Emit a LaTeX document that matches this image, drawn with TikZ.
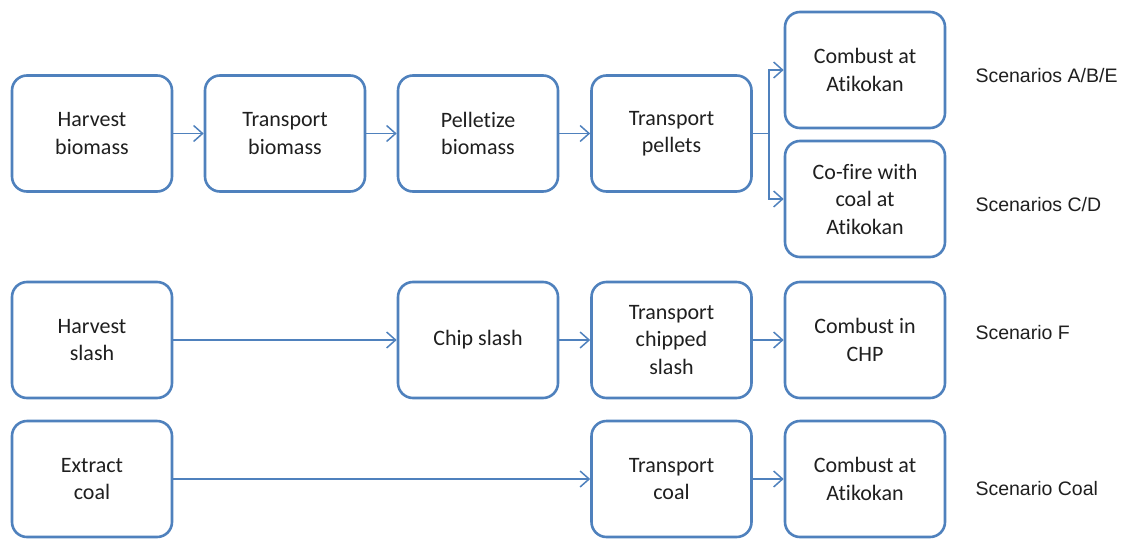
\documentclass[tikz,border=0pt]{standalone}
\usepackage{fontspec}
\setmainfont{Carlito}[Ligatures=NoCommon]
\newfontfamily\labelfont{Liberation Sans}
\usetikzlibrary{arrows.meta}
\definecolor{flowblue}{RGB}{79,129,189}
\begin{document}
\begin{tikzpicture}[x=1pt,y=-1pt,
  stepbox/.style={draw=flowblue, line width=2.6pt, rounded corners=15pt, fill=white,
    minimum width=160pt, minimum height=116pt, align=center,
    font=\fontsize{22}{27.5}\selectfont, text=black!88},
  flow/.style={draw=flowblue, line width=1.5pt, -{Straight Barb[length=9pt,width=16pt,line width=1.5pt]}},
  scen/.style={anchor=west, font=\labelfont\fontsize{19.5}{24}\selectfont, text=black!88}]
\useasboundingbox (0,0) rectangle (1123,538);
% biomass pellet chain
\node[stepbox] (hb) at (92,133.5) {Harvest\\biomass};
\node[stepbox] (tb) at (285,133.5) {Transport\\biomass};
\node[stepbox] (pb) at (478,133.5) {Pelletize\\biomass};
\node[stepbox] (tp) at (671.5,133.5) {Transport\\pellets};
\node[stepbox] (ca) at (865,70) {Combust at\\Atikokan};
\node[stepbox] (cf) at (865,199) {Co-fire with\\coal at\\Atikokan};
% slash chain
\node[stepbox] (hs) at (92,340) {Harvest\\slash};
\node[stepbox] (cs) at (478,340) {Chip slash};
\node[stepbox] (tc) at (671.5,340) {Transport\\chipped\\slash};
\node[stepbox] (ch) at (865,340) {Combust in\\CHP};
% coal chain
\node[stepbox] (ec) at (92,479) {Extract\\coal};
\node[stepbox] (tco) at (671.5,479) {Transport\\coal};
\node[stepbox] (cc) at (865,479) {Combust at\\Atikokan};
% connectors
\draw[flow] (hb) -- (tb);
\draw[flow] (tb) -- (pb);
\draw[flow] (pb) -- (tp);
\coordinate (split) at (769,133.5);
\draw[draw=flowblue, line width=1.5pt] (tp.east) -- (split);
\draw[flow] (split) |- (ca.west);
\draw[flow] (split) |- (cf.west);
\draw[flow] (hs) -- (cs);
\draw[flow] (cs) -- (tc);
\draw[flow] (tc) -- (ch);
\draw[flow] (ec) -- (tco);
\draw[flow] (tco) -- (cc);
% scenario labels
\node[scen] (sa) at (972,76) {Scenarios A/B/E};
\node[scen] (sc) at (972,205) {Scenarios C/D};
\node[scen] (sf) at (972,333) {Scenario F};
\node[scen] (sk) at (972,489) {Scenario Coal};
\end{tikzpicture}
\end{document}
